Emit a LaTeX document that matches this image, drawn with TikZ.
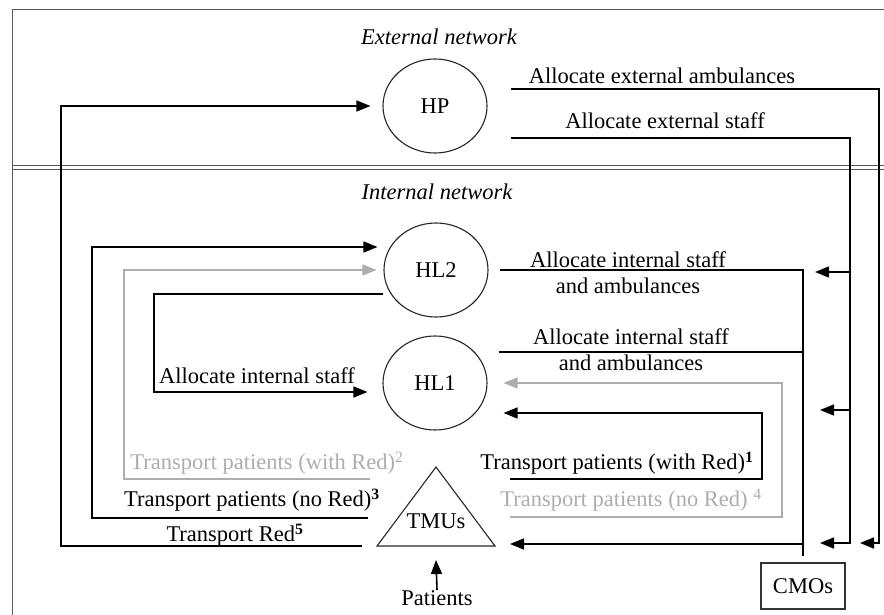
\documentclass[tikz,border=0pt]{standalone}
\usepackage{fontspec}
\setmainfont{Liberation Serif}
\usetikzlibrary{arrows.meta,shapes.geometric}
\definecolor{lightgrey}{gray}{0.68}
\definecolor{framegrey}{gray}{0.35}
\begin{document}
\begin{tikzpicture}[x=1pt, y=-1pt, font=\fontsize{22.5}{26}\selectfont,
  hub/.style={shape=ellipse, draw=black!85, line width=1.1pt, minimum width=104pt, minimum height=94pt, inner sep=0pt},
  link/.style={-, line width=1.6pt, draw=black},
  arr/.style={link, -{Triangle[length=14pt,width=11pt]}},
  garr/.style={arr, draw=lightgrey},
  frame/.style={line width=1pt, draw=framegrey}]
\useasboundingbox (0,0) rectangle (884,615);
\draw[frame] (12,615) -- (12,10) -- (884,10);
\draw[frame] (12,166) -- (884,166);
\draw[frame] (12,170) -- (884,170);
\node[font=\fontsize{22.5}{26}\selectfont\itshape] (ext) at (439,37) {External network};
\node[font=\fontsize{22.5}{26}\selectfont\itshape] (int) at (437,192) {Internal network};
\node[hub] (HP) at (435,106) {HP};
\node[hub] (HL2) at (436,270) {HL2};
\node[hub] (HL1) at (435,383) {HL1};
\coordinate (ta) at (436,467);
\coordinate (tl) at (377,546);
\coordinate (tr) at (495,546);
\coordinate (tb) at (436,546);
\draw[draw=black!85, line width=1.1pt] (tl) -- (ta) -- (tr) -- cycle;
\node (tmu) at (436,521) {TMUs};
\node[draw=black!80, line width=1.2pt, minimum width=84pt, minimum height=46pt] (cmo) at (803,586) {CMOs};
\node[anchor=north, inner sep=0pt] (pat) at (437,590) {Patients};
\coordinate (t1) at (510,479);
\coordinate (t2) at (370,479);
\coordinate (t3) at (368,518);
\coordinate (t4) at (510,517);
\draw[arr] (pat.north) -- ([yshift=-14pt]tb);
\draw[arr] ([shift={(23pt,17pt)}]HP.east) -| (879,543) -- (860,543);
\draw[arr] ([shift={(23pt,-32pt)}]HP.east) -| (850,543) -- (820,543);
\draw[arr] (850,272) -- (815,272);
\draw[arr] (850,410) -- (820,410);
\draw[link, shorten >=6pt] ([xshift=11pt]HL2.east) -| (cmo.north);
\draw[link] ([shift={(11pt,31pt)}]HL1.east) -- (803,352);
\draw[arr] (803,544) -- ([shift={(15pt,2pt)}]tr);
\draw[arr] (t1) -- (762,479) |- ([shift={(16pt,-30pt)}]HL1.east);
\draw[garr, shorten >=16pt] (t4) -- (782,517) |- (HL1);
\draw[arr, shorten >=15pt] ([yshift=-24pt]HL2.west) -- (154,294) |- ([yshift=-9pt]HL1.west);
\draw[garr, shorten >=7pt] (t2) -- (124,479) |- (HL2);
\draw[arr, shorten >=6pt] (t3) -- (92,518) |- ([yshift=23pt]HL2.west);
\draw[arr, shorten >=12pt] ([xshift=-15pt]tl) -- (61,546) |- (HP);
\node (lamb) at (662,76) {Allocate external ambulances};
\node (lstf) at (665,121) {Allocate external staff};
\node[align=center] (lhl2) at (628,273) {Allocate internal staff\\and ambulances};
\node[align=center] (lhl1) at (631,350) {Allocate internal staff\\and ambulances};
\node (lint) at (257,376) {Allocate internal staff};
\node[text=lightgrey] (lr2) at (267,463) {Transport patients (with Red)\textsuperscript{2}};
\node (lr3) at (252,500) {Transport patients (no Red)\textsuperscript{\textbf{3}}};
\node (lr5) at (235,535) {Transport Red\textsuperscript{\textbf{5}}};
\node (lr1) at (617,463) {Transport patients (with Red)\textsuperscript{\textbf{1}}};
\node[text=lightgrey] (lr4) at (631,500) {Transport patients (no Red) \textsuperscript{4}};
\end{tikzpicture}
\end{document}
